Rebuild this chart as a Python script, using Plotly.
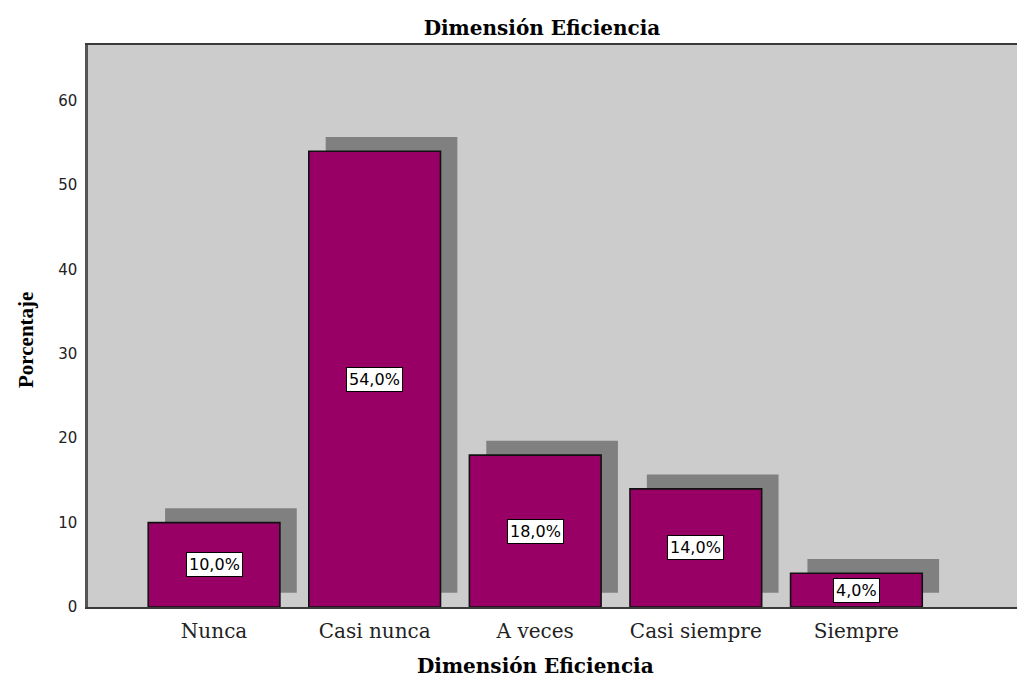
import plotly.graph_objects as go

categories = ["Nunca", "Casi nunca", "A veces", "Casi siempre", "Siempre"]
percentages = [10.0, 54.0, 18.0, 14.0, 4.0]
labels = ["10,0%", "54,0%", "18,0%", "14,0%", "4,0%"]
y_ticks = [0, 10, 20, 30, 40, 50, 60]

BAR_W = 0.82
SH_DX = 0.105
SH_DY = 1.7

SERIF_WIDE = "DejaVu Serif, Century Schoolbook, serif"

fig = go.Figure()

# drop shadow
fig.add_trace(go.Bar(
    x=categories, y=percentages, base=SH_DY,
    width=BAR_W, offset=-BAR_W / 2 + SH_DX,
    marker=dict(color="#808080", line=dict(width=0)),
    hoverinfo="skip", showlegend=False,
))
# main bars
fig.add_trace(go.Bar(
    x=categories, y=percentages,
    width=BAR_W, offset=-BAR_W / 2,
    marker=dict(color="#990066", line=dict(color="#111111", width=1.6)),
    showlegend=False,
))

for c, v, t in zip(categories, percentages, labels):
    fig.add_annotation(
        x=c, y=v / 2, text=t, showarrow=False,
        font=dict(family="DejaVu Sans, sans-serif", size=16, color="#000000"),
        bgcolor="#ffffff", bordercolor="#000000", borderwidth=1, borderpad=2,
    )

# y-axis title
fig.add_annotation(
    text="<b>Porcentaje</b>", textangle=-90, showarrow=False,
    xref="paper", yref="paper", x=(26 - 88) / 929, y=(607 - 340) / 562,
    xanchor="center", yanchor="middle",
    font=dict(family="Liberation Serif, Times New Roman, serif", size=21, color="#000000"),
)
# x-axis title
fig.add_annotation(
    text="<b>Dimensión Eficiencia</b>", showarrow=False,
    xref="paper", yref="paper", x=(535 - 88) / 929, y=(607 - 666) / 562,
    xanchor="center", yanchor="middle",
    font=dict(family=SERIF_WIDE, size=20, color="#000000"),
)

fig.update_layout(
    width=1017, height=677,
    margin=dict(l=88, r=0, t=45, b=70),
    paper_bgcolor="#ffffff",
    plot_bgcolor="#cccccc",
    barmode="overlay",
    title=dict(
        text="<b>Dimensión Eficiencia</b>",
        font=dict(family=SERIF_WIDE, size=20, color="#000000"),
        x=542 / 1017, xref="container", xanchor="center",
        y=1 - 28 / 677, yref="container", yanchor="middle",
    ),
    xaxis=dict(
        type="category",
        range=[-0.785, 5.0],
        showgrid=False,
        showline=True, linecolor="#3a3a3a", linewidth=2, mirror=True,
        ticks="", ticklabelstandoff=5,
        tickfont=dict(family=SERIF_WIDE, size=20, color="#222222"),
        zeroline=False,
    ),
    yaxis=dict(
        range=[0, 66.6],
        tickvals=y_ticks,
        showgrid=False,
        showline=True, linecolor="#555555", linewidth=2.5,
        ticks="", ticklabelstandoff=5,
        tickfont=dict(family="DejaVu Sans, sans-serif", size=15, color="#222222"),
        zeroline=False,
    ),
)

fig.write_html("out.html")
